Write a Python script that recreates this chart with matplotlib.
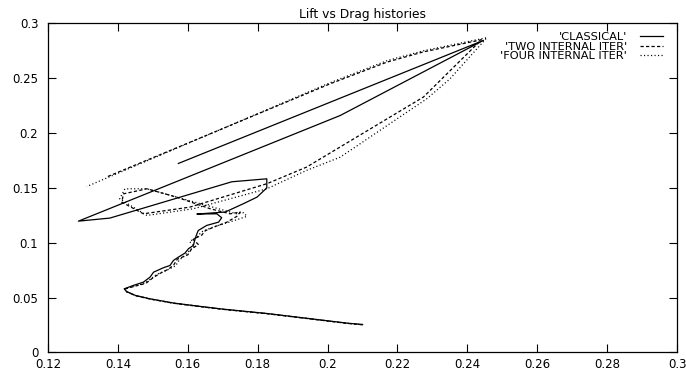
import matplotlib
matplotlib.use("Agg")
import matplotlib.pyplot as plt
from matplotlib.ticker import FuncFormatter

plt.rcParams['font.family'] = ['DejaVu Sans']

# drag (x) and lift (y) histories
cd_classical = [0.2100, 0.2056, 0.1827, 0.1700, 0.1635, 0.1560, 0.1490, 0.1450, 0.1425, 0.1418,
                0.1444, 0.1473, 0.1492, 0.1502, 0.1530, 0.1549, 0.1559, 0.1573, 0.1592, 0.1602,
                0.1616, 0.1621, 0.1626, 0.1630, 0.1654, 0.1688, 0.1697, 0.1683, 0.1626, 0.1707,
                0.1759, 0.1798, 0.1826, 0.1826, 0.1726, 0.1377, 0.1287, 0.2036, 0.2446, 0.1573]
cl_classical = [0.0255, 0.0267, 0.0355, 0.0395, 0.0420, 0.0450, 0.0490, 0.0520, 0.0555, 0.0580,
                0.0611, 0.0641, 0.0687, 0.0732, 0.0772, 0.0793, 0.0839, 0.0869, 0.0906, 0.0946,
                0.0976, 0.1037, 0.1082, 0.1112, 0.1158, 0.1188, 0.1228, 0.1264, 0.1262, 0.1280,
                0.1356, 0.1416, 0.1500, 0.1583, 0.1556, 0.1225, 0.1197, 0.2160, 0.2845, 0.1723]

cd_two = [0.2100, 0.2056, 0.1827, 0.1700, 0.1635, 0.1560, 0.1490, 0.1450, 0.1425, 0.1420,
          0.1450, 0.1480, 0.1500, 0.1520, 0.1545, 0.1560, 0.1570, 0.1600, 0.1610, 0.1630,
          0.1615, 0.1640, 0.1650, 0.1680, 0.1710, 0.1740, 0.1750, 0.1721, 0.1664, 0.1568,
          0.1483, 0.1416, 0.1411, 0.1473, 0.1606, 0.1826, 0.1940, 0.2274, 0.2440, 0.2274,
          0.2170, 0.2008, 0.1368]
cl_two = [0.0252, 0.0265, 0.0353, 0.0393, 0.0418, 0.0448, 0.0488, 0.0518, 0.0553, 0.0578,
          0.0605, 0.0630, 0.0680, 0.0720, 0.0760, 0.0800, 0.0850, 0.0890, 0.0940, 0.0985,
          0.1030, 0.1070, 0.1110, 0.1150, 0.1185, 0.1240, 0.1280, 0.1264, 0.1310, 0.1416,
          0.1492, 0.1446, 0.1370, 0.1264, 0.1325, 0.1538, 0.1690, 0.2328, 0.2850, 0.2740,
          0.2647, 0.2450, 0.1600]

cd_four = [0.2100, 0.2056, 0.1827, 0.1700, 0.1635, 0.1560, 0.1490, 0.1450, 0.1425, 0.1418,
           0.1440, 0.1470, 0.1490, 0.1510, 0.1540, 0.1565, 0.1575, 0.1590, 0.1605, 0.1620,
           0.1605, 0.1625, 0.1640, 0.1670, 0.1700, 0.1730, 0.1769, 0.1760, 0.1740, 0.1654,
           0.1483, 0.1420, 0.1405, 0.1483, 0.1616, 0.1826, 0.1940, 0.2036, 0.2284, 0.2350,
           0.2456, 0.2274, 0.2170, 0.2008, 0.1311]
cl_four = [0.0254, 0.0266, 0.0354, 0.0394, 0.0419, 0.0449, 0.0489, 0.0519, 0.0554, 0.0583,
           0.0600, 0.0625, 0.0660, 0.0710, 0.0750, 0.0790, 0.0840, 0.0880, 0.0930, 0.0970,
           0.1010, 0.1050, 0.1100, 0.1140, 0.1170, 0.1200, 0.1240, 0.1275, 0.1264, 0.1340,
           0.1492, 0.1492, 0.1400, 0.1249, 0.1310, 0.1492, 0.1660, 0.1780, 0.2313, 0.2494,
           0.2870, 0.2750, 0.2660, 0.2460, 0.1513]

labels = ["'CLASSICAL'", "'TWO INTERNAL ITER'", "'FOUR INTERNAL ITER'"]
x_ticks = [0.12, 0.14, 0.16, 0.18, 0.2, 0.22, 0.24, 0.26, 0.28, 0.3]
y_ticks = [0, 0.05, 0.1, 0.15, 0.2, 0.25, 0.3]

fig = plt.figure(figsize=(6.86, 3.71), dpi=100)
ax = fig.add_axes([0.070, 0.050, 0.917, 0.887])

ax.plot(cd_classical, cl_classical, color='black', lw=0.9, linestyle='-', label=labels[0])
ax.plot(cd_two, cl_two, color='black', lw=0.9, linestyle=(0, (2.6, 1.8)), label=labels[1])
ax.plot(cd_four, cl_four, color='black', lw=0.9, linestyle=(0, (0.9, 1.9)), label=labels[2])

ax.set_xlim(0.12, 0.3)
ax.set_ylim(0, 0.3)
ax.set_xticks(x_ticks)
ax.set_yticks(y_ticks)
fmt = FuncFormatter(lambda v, p: '%g' % v)
ax.xaxis.set_major_formatter(fmt)
ax.yaxis.set_major_formatter(fmt)
ax.tick_params(direction='in', top=True, right=True, length=6, width=0.8, labelsize=8.5)
ax.tick_params(axis='x', pad=4)
ax.tick_params(axis='y', pad=7)
for s in ax.spines.values():
    s.set_linewidth(0.9)

ax.set_title("Lift vs Drag histories", fontsize=8.8, pad=4)

ax.legend(loc='upper right', bbox_to_anchor=(0.986, 0.99), frameon=False, markerfirst=False,
          fontsize=8.2, handlelength=2.0, handletextpad=1.1, labelspacing=-0.05, borderpad=0)

fig.savefig("out.png", dpi=100)
